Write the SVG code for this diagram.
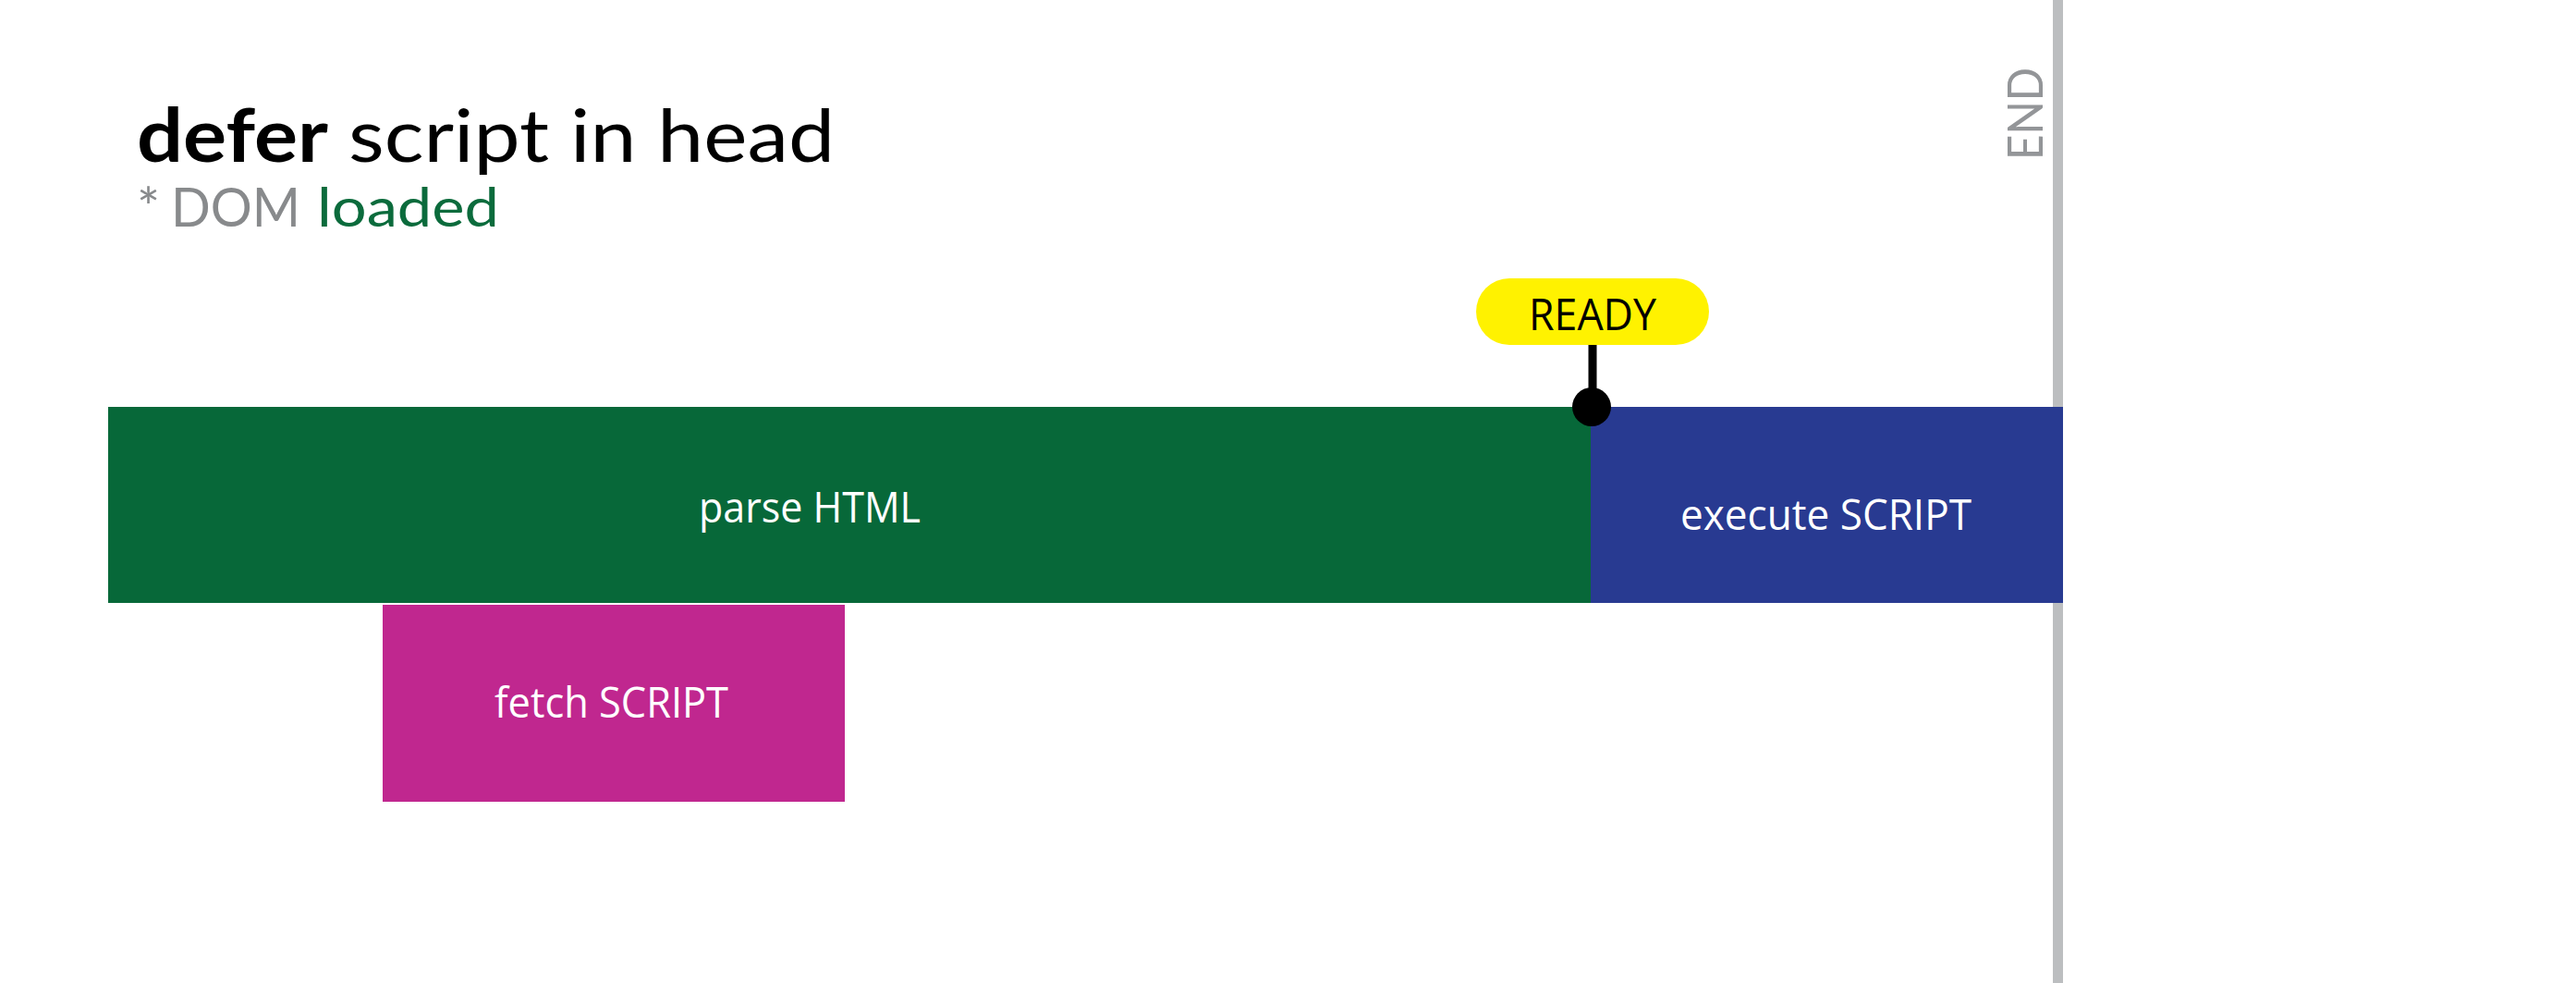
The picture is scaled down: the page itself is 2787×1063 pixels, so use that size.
<svg xmlns="http://www.w3.org/2000/svg" width="2787" height="1063" viewBox="0 0 2787 1063">
<style>
.lbl{font-family:"Open Sans","Noto Sans",sans-serif;font-size:45px;fill:#ffffff}
.ttl{font-family:Lato,"Noto Sans",sans-serif}
</style>
<rect width="2787" height="1063" fill="#ffffff"/>
<g id="title">
<text class="ttl" x="148" y="175" font-size="80" font-weight="bold" fill="#000" textLength="207" lengthAdjust="spacingAndGlyphs">defer</text>
<text class="ttl" x="377" y="175" font-size="80" fill="#000" textLength="526" lengthAdjust="spacingAndGlyphs">script in head</text>
<text class="ttl" x="148" y="245" font-size="59" fill="#888a8c"><tspan>*</tspan><tspan x="185" textLength="140" lengthAdjust="spacingAndGlyphs">DOM</tspan></text>
<text class="ttl" x="343" y="245" font-size="59" fill="#0b6b3c" textLength="197" lengthAdjust="spacingAndGlyphs">loaded</text>
</g>
<g id="end-line">
<rect x="2221" y="0" width="11" height="1063" fill="#bcbec0"/>
<text transform="translate(2210,173) rotate(-90)" font-family="Lato,'Open Sans',sans-serif" font-size="53" fill="#939598" textLength="100" lengthAdjust="spacingAndGlyphs">END</text>
</g>
<g id="parse-html">
<rect x="117" y="440" width="1604" height="212" fill="#076839"/>
<text class="lbl" x="756" y="565" textLength="240" lengthAdjust="spacingAndGlyphs">parse HTML</text>
</g>
<g id="execute-script">
<rect x="1721" y="440" width="511" height="212" fill="#283a91"/>
<text class="lbl" x="1818" y="573" textLength="315" lengthAdjust="spacingAndGlyphs">execute SCRIPT</text>
</g>
<g id="fetch-script">
<rect x="414" y="654" width="500" height="213" fill="#c0278f"/>
<text class="lbl" x="535" y="776" textLength="253" lengthAdjust="spacingAndGlyphs">fetch SCRIPT</text>
</g>
<g id="connectors">
<line x1="1723" y1="370" x2="1723" y2="430" stroke="#000" stroke-width="9"/>
<circle cx="1722" cy="440" r="21" fill="#000"/>
</g>
<g id="ready">
<rect x="1597" y="301" width="252" height="72" rx="36" ry="36" fill="#fff200"/>
<text x="1654" y="357" font-family="'Open Sans','Noto Sans',sans-serif" font-size="47" fill="#000" textLength="138" lengthAdjust="spacingAndGlyphs">READY</text>
</g>
</svg>
